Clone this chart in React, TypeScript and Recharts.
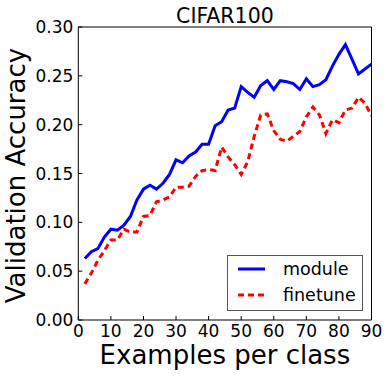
import React from 'react';
import { LineChart, Line, XAxis, YAxis, Legend, Label } from 'recharts';

// examples per class (x)
const examplesPerClass = [
  2, 4, 6, 8, 10, 12, 14, 16, 18, 20, 22, 24, 26, 28, 30, 32, 34, 36, 38, 40, 42, 44, 46,
  48, 50, 52, 54, 56, 58, 60, 62, 64, 66, 68, 70, 72, 74, 76, 78, 80, 82, 84, 86, 88, 90,
];

const moduleAcc = [
  0.063, 0.070, 0.073, 0.085, 0.093, 0.092, 0.097, 0.106, 0.123, 0.134, 0.138, 0.134, 0.140,
  0.149, 0.164, 0.161, 0.168, 0.172, 0.180, 0.180, 0.199, 0.203, 0.215, 0.217, 0.239, 0.233,
  0.228, 0.240, 0.245, 0.236, 0.245, 0.244, 0.242, 0.236, 0.247, 0.239, 0.241, 0.246, 0.260,
  0.272, 0.282, 0.267, 0.252, 0.257, 0.262,
];

const finetuneAcc = [
  0.037, 0.048, 0.061, 0.071, 0.082, 0.082, 0.093, 0.090, 0.090, 0.106, 0.107, 0.121, 0.123,
  0.126, 0.136, 0.136, 0.137, 0.147, 0.153, 0.154, 0.153, 0.177, 0.167, 0.159, 0.149, 0.162,
  0.188, 0.210, 0.211, 0.194, 0.185, 0.183, 0.188, 0.193, 0.208, 0.218, 0.210, 0.191, 0.205,
  0.202, 0.215, 0.217, 0.228, 0.222, 0.209,
];

const xTicks = [0, 10, 20, 30, 40, 50, 60, 70, 80, 90];
const yTicks = [0, 0.05, 0.1, 0.15, 0.2, 0.25, 0.3];

const data = examplesPerClass.map((x, i) => ({
  x,
  module: moduleAcc[i],
  finetune: finetuneAcc[i],
}));

const FONT = 'DejaVu Sans';

const LegendBox = () => (
  <svg width={136} height={56} style={{ display: 'block' }}>
    <rect x={0.5} y={0.5} width={135} height={55} fill="#fff" stroke="#555" strokeWidth={1} />
    <line x1={11} x2={38} y1={14} y2={14} stroke="#0000ff" strokeWidth={3} />
    <text x={56} y={20} fontSize={17.5} fill="#000" fontFamily={FONT}>module</text>
    <line x1={11} x2={38} y1={40} y2={40} stroke="#ff0000" strokeWidth={3} strokeDasharray="6 4" />
    <text x={56} y={46} fontSize={17.5} fill="#000" fontFamily={FONT}>finetune</text>
  </svg>
);

const YTitle = (props: any) => {
  const { viewBox } = props;
  const x = viewBox.x - 52;
  const y = viewBox.y + viewBox.height / 2 + 2;
  return (
    <text
      x={x}
      y={y}
      transform={`rotate(-90, ${x}, ${y})`}
      textAnchor="middle"
      fontSize={26}
      fill="#000"
      fontFamily={FONT}
    >
      Validation Accuracy
    </text>
  );
};

const XTitle = (props: any) => {
  const { viewBox } = props;
  return (
    <text
      x={viewBox.x + viewBox.width / 2}
      y={364}
      textAnchor="middle"
      fontSize={26}
      fill="#000"
      fontFamily={FONT}
    >
      Examples per class
    </text>
  );
};

const Title = (props: any) => {
  const { viewBox } = props;
  return (
    <text
      x={viewBox.x + viewBox.width / 2}
      y={22.7}
      textAnchor="middle"
      fontSize={20.5}
      fill="#000"
      fontFamily={FONT}
    >
      CIFAR100
    </text>
  );
};

export default function App() {
  return (
    <div style={{ position: 'absolute', left: 0, top: 0, width: 389, height: 377, background: '#fff', fontFamily: FONT }}>
      <LineChart
        width={389}
        height={377}
        data={data}
        margin={{ top: 26, right: 16.5, bottom: 56, left: 77.3 }}
      >
        <XAxis
          dataKey="x"
          type="number"
          domain={[0, 90]}
          ticks={xTicks}
          allowDataOverflow
          height={1}
          stroke="#000"
          axisLine={{ stroke: '#000', strokeWidth: 1 }}
          tickLine={{ stroke: '#000' }}
          tickSize={-4}
          tickMargin={9}
          tick={{ fill: '#000', fontSize: 17 }}
        >
          <Label content={<XTitle />} />
        </XAxis>
        <XAxis
          xAxisId="top"
          orientation="top"
          dataKey="x"
          type="number"
          domain={[0, 90]}
          ticks={xTicks}
          allowDataOverflow
          height={1}
          axisLine={{ stroke: '#000', strokeWidth: 1 }}
          tickLine={{ stroke: '#000' }}
          tickSize={-4}
          tick={false}
        >
          <Label content={<Title />} />
        </XAxis>
        <YAxis
          type="number"
          domain={[0, 0.3]}
          ticks={yTicks}
          allowDataOverflow
          width={1}
          axisLine={{ stroke: '#000', strokeWidth: 1 }}
          tickLine={{ stroke: '#000' }}
          tickSize={-4}
          tickMargin={9}
          tick={{ fill: '#000', fontSize: 17 }}
          tickFormatter={(v: number) => v.toFixed(2)}
        >
          <Label content={<YTitle />} />
        </YAxis>
        <YAxis
          yAxisId="right"
          orientation="right"
          type="number"
          domain={[0, 0.3]}
          ticks={yTicks}
          allowDataOverflow
          width={1}
          axisLine={{ stroke: '#000', strokeWidth: 1 }}
          tickLine={{ stroke: '#000' }}
          tickSize={-4}
          tick={false}
        />
        <Line
          dataKey="module"
          name="module"
          stroke="#0000ff"
          strokeWidth={3}
          dot={false}
          type="linear"
          isAnimationActive={false}
        />
        <Line
          dataKey="finetune"
          name="finetune"
          xAxisId="top"
          yAxisId="right"
          stroke="#ff0000"
          strokeWidth={3}
          strokeDasharray="6 4"
          dot={false}
          type="linear"
          isAnimationActive={false}
        />
        <Legend
          layout="vertical"
          align="center"
          verticalAlign="middle"
          content={<LegendBox />}
          wrapperStyle={{ position: 'absolute', left: 227, top: 255, width: 136, height: 56 }}
        />
      </LineChart>
    </div>
  );
}
